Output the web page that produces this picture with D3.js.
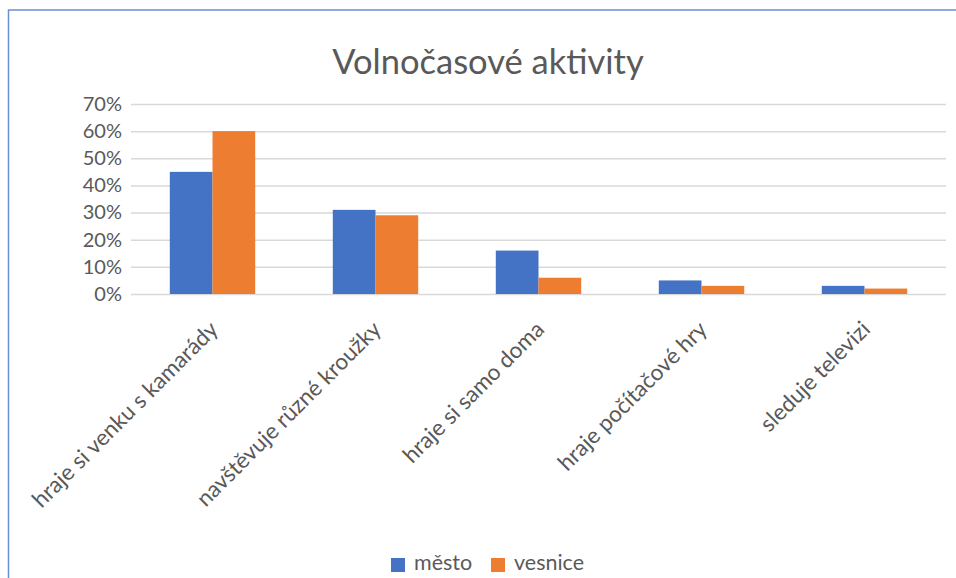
<!DOCTYPE html>
<html>
<head>
<meta charset="utf-8">
<script src="https://cdn.jsdelivr.net/npm/d3@7"></script>
<style>
    body { margin: 0; background: #fff; }
    text { font-family: Lato, "Open Sans", sans-serif; fill: #595959; }
</style>
</head>
<body>
<div id="chart"></div>
<script>
// chart data
const categories = ["hraje si venku s kamarády", "navštěvuje různé kroužky", "hraje si samo doma", "hraje počítačové hry", "sleduje televizi"];
const seriesNames = ["město", "vesnice"];
const mesto = [0.45, 0.31, 0.16, 0.05, 0.03];
const vesnice = [0.60, 0.29, 0.06, 0.03, 0.02];
const yTicks = [0, 0.1, 0.2, 0.3, 0.4, 0.5, 0.6, 0.7];
const colors = ["#4472C4", "#ED7D31"];

const width = 956, height = 578;
const margin = {top: 104, right: 10, bottom: 284, left: 131};
const innerW = width - margin.left - margin.right;
const innerH = height - margin.top - margin.bottom;

const svg = d3.select("#chart").append("svg")
    .attr("width", width)
    .attr("height", height);

// chart border (only left and top are visible in frame)
svg.append("rect")
    .attr("x", 8.5).attr("y", 10)
    .attr("width", 980).attr("height", 600)
    .attr("fill", "none")
    .attr("stroke", "#6A8FD6")
    .attr("stroke-width", 1.5);

svg.append("text")
    .attr("x", 488)
    .attr("y", 74)
    .attr("text-anchor", "middle")
    .style("font-size", "34.5px")
    .text("Volnočasové aktivity");

const g = svg.append("g")
    .attr("transform", `translate(${margin.left},${margin.top})`);

const x = d3.scaleBand()
    .domain(categories)
    .range([0, innerW]);

const x1 = d3.scaleBand()
    .domain(seriesNames)
    .range([0, x.bandwidth() * 0.524])
    .padding(0);

const y = d3.scaleLinear()
    .domain([0, 0.7])
    .range([innerH, 0]);

// gridlines
const yAxis = d3.axisLeft(y)
    .tickValues(yTicks)
    .tickFormat(d3.format(".0%"))
    .tickSize(-innerW)
    .tickPadding(9);

g.append("g")
    .attr("class", "y-axis")
    .call(yAxis)
    .call(a => a.select(".domain").remove())
    .call(a => a.selectAll("line").attr("stroke", "#d9d9d9").attr("stroke-width", 1.5))
    .call(a => a.selectAll("text").style("font-size", "20px").attr("fill", "#595959"));

const rows = categories.map((c, i) => ({cat: c, values: [mesto[i], vesnice[i]]}));

const offset = (x.bandwidth() - x1.range()[1]) / 2;

g.selectAll(".group")
    .data(rows)
    .join("g")
    .attr("class", "group")
    .attr("transform", d => `translate(${x(d.cat) + offset},0)`)
    .selectAll("rect")
    .data(d => d.values.map((v, j) => ({name: seriesNames[j], v: v, j: j})))
    .join("rect")
    .attr("x", d => x1(d.name))
    .attr("y", d => y(d.v))
    .attr("width", x1.bandwidth())
    .attr("height", d => innerH - y(d.v))
    .attr("fill", d => colors[d.j]);

// category labels, rotated
const xAxis = d3.axisBottom(x).tickSize(0).tickPadding(0);
g.append("g")
    .attr("class", "x-axis")
    .attr("transform", `translate(0,${innerH})`)
    .call(xAxis)
    .call(a => a.select(".domain").remove())
    .selectAll("text")
    .style("font-size", "22.5px")
    .attr("fill", "#595959")
    .style("text-anchor", "end")
    .attr("x", -21)
    .attr("y", 31)
    .attr("dy", 0)
    .attr("transform", "rotate(-45)");

// legend
const legend = svg.append("g")
    .attr("transform", "translate(391,570)");

const legendX = [0, 100];
seriesNames.forEach((n, i) => {
    const item = legend.append("g").attr("transform", `translate(${legendX[i]},0)`);
    item.append("rect")
        .attr("x", 0).attr("y", -12)
        .attr("width", 14).attr("height", 14)
        .attr("fill", colors[i]);
    item.append("text")
        .attr("x", 23)
        .attr("y", 0)
        .style("font-size", "21.5px")
        .text(n);
});
</script>
</body>
</html>
